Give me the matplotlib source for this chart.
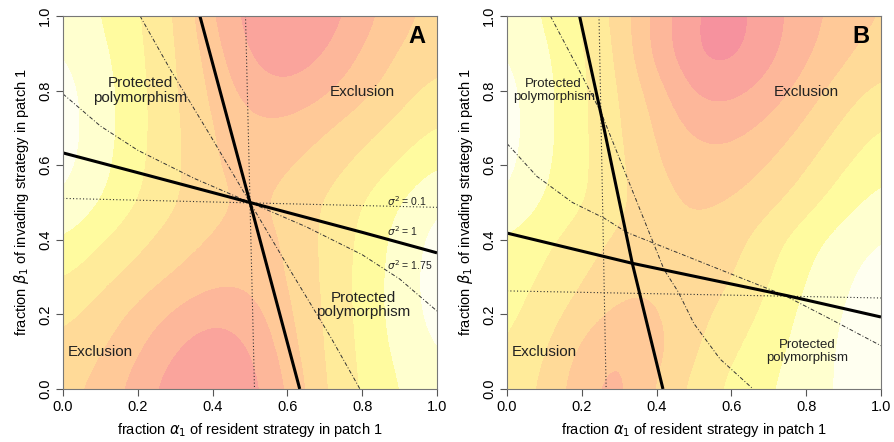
import numpy as np
import matplotlib
matplotlib.use("Agg")
import matplotlib.pyplot as plt
from matplotlib.colors import ListedColormap, BoundaryNorm

plt.rcParams["font.family"] = ["Liberation Sans", "DejaVu Sans"]
plt.rcParams["mathtext.fontset"] = "dejavusans"

# background field (rows: y = 1.0 .. 0.0, cols: x = 0.0 .. 1.0)
field_a = [
    [0.8, 1.5, 2.4, 3.5, 5.5, 7.0, 7.4, 7.1, 6.0, 4.8, 4.2],
    [0.4, 1.2, 2.3, 3.4, 5.0, 6.7, 7.2, 6.6, 5.4, 4.4, 3.8],
    [0.1, 1.0, 2.2, 3.4, 4.7, 6.0, 6.4, 5.7, 4.8, 3.9, 3.2],
    [0.0, 1.0, 2.2, 3.3, 4.5, 5.3, 5.2, 4.6, 3.9, 3.2, 2.4],
    [0.1, 1.1, 2.3, 3.3, 4.4, 5.0, 4.6, 4.0, 3.2, 2.4, 1.5],
    [0.5, 1.5, 2.5, 3.4, 4.2, 4.7, 4.2, 3.4, 2.5, 1.5, 0.5],
    [1.5, 2.4, 3.2, 4.0, 4.6, 5.0, 4.4, 3.3, 2.3, 1.1, 0.1],
    [2.4, 3.2, 3.9, 4.6, 5.2, 5.3, 4.5, 3.3, 2.2, 1.0, 0.0],
    [3.2, 3.9, 4.8, 5.7, 6.4, 6.0, 4.7, 3.4, 2.2, 1.0, 0.1],
    [3.8, 4.4, 5.4, 6.6, 7.2, 6.7, 5.0, 3.4, 2.3, 1.2, 0.4],
    [4.2, 4.8, 6.0, 7.1, 7.4, 7.0, 5.5, 3.5, 2.4, 1.5, 0.8],
]
field_b = [
    [0.8, 1.6, 2.6, 3.8, 6.0, 7.3, 7.5, 7.0, 5.9, 5.1, 4.4],
    [0.4, 1.3, 2.4, 3.6, 6.0, 7.4, 7.5, 6.9, 5.7, 4.7, 4.0],
    [0.1, 1.2, 2.3, 3.5, 5.0, 6.8, 6.9, 6.2, 5.0, 4.0, 3.2],
    [0.0, 1.2, 2.3, 3.4, 4.6, 5.8, 5.9, 5.2, 4.3, 3.3, 2.4],
    [0.1, 1.3, 2.3, 3.3, 4.4, 5.1, 5.1, 4.5, 3.6, 2.6, 1.8],
    [0.5, 1.6, 2.4, 3.2, 4.2, 4.6, 4.5, 3.8, 2.9, 1.9, 1.1],
    [1.6, 2.3, 3.0, 3.7, 4.3, 4.4, 3.9, 2.9, 1.9, 1.0, 0.4],
    [2.0, 2.6, 3.4, 4.2, 4.4, 4.1, 3.6, 2.6, 1.5, 0.6, 0.1],
    [2.2, 3.0, 4.0, 4.8, 4.6, 3.9, 3.1, 2.2, 1.2, 0.4, 0.0],
    [2.5, 3.4, 4.8, 5.7, 4.9, 3.6, 2.6, 1.9, 1.0, 0.3, 0.0],
    [2.8, 3.7, 5.2, 6.0, 4.3, 3.2, 2.2, 1.6, 0.9, 0.3, 0.2],
]

# panel A curves (x, y)
a_thick_steep = [(0.366, 1.0), (0.5, 0.5), (0.633, 0.0)]
a_thick_flat = [(0.0, 0.633), (0.2, 0.58), (0.5, 0.5), (0.8, 0.42), (1.0, 0.365)]
a_dd_steep = [(0.206, 1.0), (0.286, 0.858), (0.393, 0.681), (0.5, 0.5),
              (0.607, 0.319), (0.714, 0.142), (0.794, 0.0)]
a_dd_flat = [(0.0, 0.791), (0.1, 0.705), (0.2, 0.64), (0.35, 0.565), (0.5, 0.5),
             (0.65, 0.435), (0.8, 0.36), (0.9, 0.295), (1.0, 0.209)]
a_dot_v = [(0.488, 1.0), (0.512, 0.0)]
a_dot_h = [(0.0, 0.511), (1.0, 0.487)]

# panel B curves (x, y)
b_thick_steep = [(0.194, 1.0), (0.252, 0.734), (0.335, 0.337), (0.417, 0.0)]
b_thick_flat = [(0.0, 0.418), (0.335, 0.337), (0.75, 0.25), (1.0, 0.193)]
b_dd_steep = [(0.116, 1.0), (0.19, 0.86), (0.252, 0.74), (0.348, 0.5), (0.42, 0.32),
              (0.458, 0.26), (0.5, 0.175), (0.57, 0.08), (0.658, 0.0)]
b_dd_flat = [(0.0, 0.658), (0.08, 0.57), (0.175, 0.5), (0.26, 0.458), (0.32, 0.42),
             (0.5, 0.348), (0.74, 0.252), (0.86, 0.19), (1.0, 0.116)]
b_dot_v = [(0.246, 1.0), (0.265, 0.0)]
b_dot_h = [(0.0, 0.263), (1.0, 0.244)]

band_colors = ["#FFFFF0", "#FFFFCF", "#FFFB9F", "#FFEB9A", "#FFDA98",
               "#FFC998", "#FDB79A", "#FAA49C", "#F6929E"]
cmap = ListedColormap(band_colors)
norm = BoundaryNorm([-1, 0.5, 1.5, 2.5, 3.5, 4.5, 5.5, 6.5, 7.25, 9], cmap.N)

W, H = 894, 442
fig = plt.figure(figsize=(W / 100, H / 100), dpi=100)
ax_a = fig.add_axes([63 / W, 53 / H, 374 / W, 373 / H])
ax_b = fig.add_axes([507 / W, 53 / H, 374 / W, 373 / H])


def line(ax, pts, **kw):
    xs = [p[0] for p in pts]
    ys = [p[1] for p in pts]
    ax.plot(xs, ys, **kw)


def draw(ax, field, thick, dd, dots, letter):
    ax.imshow(np.array(field), extent=(-0.05, 1.05, -0.05, 1.05), origin="upper",
              cmap=cmap, norm=norm, interpolation="bicubic",
              interpolation_stage="data", aspect="auto", zorder=0)
    for pts in dots:
        line(ax, pts, color="#333333", lw=0.8, ls=(0, (1, 2)))
    for pts in dd:
        line(ax, pts, color="#333333", lw=0.7, ls=(0, (4, 2, 1, 2)))
    for pts in thick:
        line(ax, pts, color="black", lw=2.2, solid_capstyle="butt")
    ax.set_xlim(0, 1)
    ax.set_ylim(0, 1)
    ticks = [0.0, 0.2, 0.4, 0.6, 0.8, 1.0]
    ax.set_xticks(ticks)
    ax.set_yticks(ticks)
    ax.set_xticklabels([f"{t:.1f}" for t in ticks])
    ax.set_yticklabels([f"{t:.1f}" for t in ticks], rotation=90, va="center")
    ax.tick_params(labelsize=10.5, length=5, width=0.8, color="#555555", pad=3)
    for s in ax.spines.values():
        s.set_color("#777777")
        s.set_linewidth(0.8)
    ax.set_xlabel(r"fraction $\alpha_1$ of resident strategy in patch 1",
                  fontsize=10.5, labelpad=5)
    ax.set_ylabel(r"fraction $\beta_1$ of invading strategy in patch 1",
                  fontsize=10.5, labelpad=5)
    ax.text(0.947, 0.945, letter, fontsize=17, fontweight="bold",
            ha="center", va="center")


draw(ax_a, field_a, [a_thick_steep, a_thick_flat], [a_dd_steep, a_dd_flat],
     [a_dot_v, a_dot_h], "A")
draw(ax_b, field_b, [b_thick_steep, b_thick_flat], [b_dd_steep, b_dd_flat],
     [b_dot_v, b_dot_h], "B")

tc = "#222222"
ax_a.text(0.206, 0.80, "Protected\npolymorphism", fontsize=11, ha="center",
          va="center", color=tc, linespacing=1.05)
ax_a.text(0.80, 0.796, "Exclusion", fontsize=11, ha="center", va="center", color=tc)
ax_a.text(0.802, 0.225, "Protected\npolymorphism", fontsize=11, ha="center",
          va="center", color=tc, linespacing=1.05)
ax_a.text(0.10, 0.10, "Exclusion", fontsize=11, ha="center", va="center", color=tc)
ax_a.text(0.865, 0.503, r"$\sigma^2$ = 0.1", fontsize=7.5, ha="left", va="center", color=tc)
ax_a.text(0.865, 0.422, r"$\sigma^2$ = 1", fontsize=7.5, ha="left", va="center", color=tc)
ax_a.text(0.865, 0.331, r"$\sigma^2$ = 1.75", fontsize=7.5, ha="left", va="center", color=tc)

ax_b.text(0.125, 0.80, "Protected\npolymorphism", fontsize=9.5, ha="center",
          va="center", color=tc, linespacing=1.05)
ax_b.text(0.80, 0.796, "Exclusion", fontsize=11, ha="center", va="center", color=tc)
ax_b.text(0.802, 0.10, "Protected\npolymorphism", fontsize=9.5, ha="center",
          va="center", color=tc, linespacing=1.05)
ax_b.text(0.10, 0.10, "Exclusion", fontsize=11, ha="center", va="center", color=tc)

fig.savefig("out.png", dpi=100)
